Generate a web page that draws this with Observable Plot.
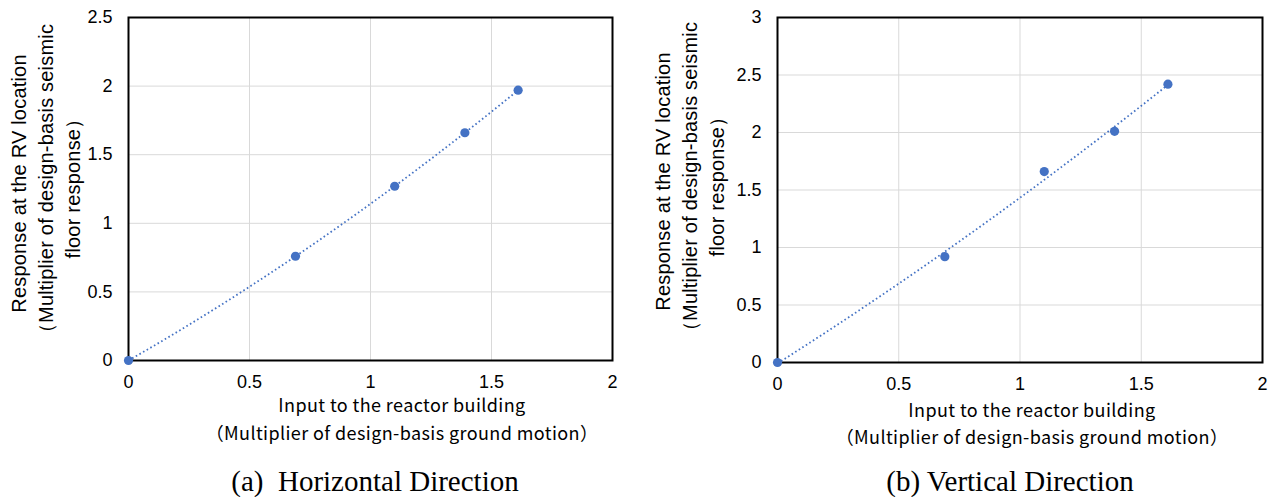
<!DOCTYPE html>
<html>
<head>
<meta charset="utf-8">
<script src="https://cdn.jsdelivr.net/npm/d3@7"></script>
<script src="https://cdn.jsdelivr.net/npm/@observablehq/plot@0.6"></script>
<style>
  html, body { margin: 0; padding: 0; background: #fff; }
  #root { position: relative; width: 1271px; height: 497px; overflow: hidden; }
  .panel { position: absolute; top: 0; }
  .panel svg { display: block; overflow: visible; }
  .ytitle {
    position: absolute; width: 380px; height: 81px;
    font-family: "Liberation Sans", Arial, sans-serif; font-size: 20px;
    letter-spacing: 0.2px;
    line-height: 27px; text-align: center; white-space: pre; color: #000;
    transform: rotate(-90deg); transform-origin: 50% 50%;
  }
  .xtitle {
    position: absolute; width: 500px; height: 28px; line-height: 28px;
    font-family: "Noto Sans CJK JP", sans-serif; font-size: 18px;
    letter-spacing: 0.4px; text-align: center; white-space: pre; color: #000;
  }
  .caption {
    position: absolute; width: 500px; height: 36px; line-height: 36px;
    font-family: "Liberation Serif", "Times New Roman", serif; font-size: 29px;
    text-align: center; white-space: pre; color: #000;
  }
</style>
</head>
<body>
<div id="root"></div>
<script>
// Input to the reactor building (multiplier of design-basis ground motion)
const inputLevels = [0, 0.69, 1.1, 1.39, 1.61];
// Response at the RV location, horizontal direction
const responseHorizontal = [0, 0.76, 1.27, 1.66, 1.97];
// Response at the RV location, vertical direction
const responseVertical = [0, 0.92, 1.66, 2.01, 2.42];

const xTicks = [0, 0.5, 1, 1.5, 2];
const yTicksHorizontal = [0, 0.5, 1, 1.5, 2, 2.5];
const yTicksVertical = [0, 0.5, 1, 1.5, 2, 2.5, 3];

const yTitle = "Response at the RV location\n（Multiplier of design-basis seismic\nfloor response）";
const xTitle1 = "Input to the reactor building";
const xTitle2 = "（Multiplier of design-basis ground motion）";
const captionHorizontal = "(a)  Horizontal Direction";
const captionVertical = "(b) Vertical Direction";

const blue = "#4472C4";

// Second-order polynomial trendline (least squares) through the measured points
function polyTrend(xs, ys) {
  const S = k => d3.sum(xs, x => x ** k);
  const T = k => d3.sum(xs.map((x, i) => x ** k * ys[i]));
  const A = [[S(0), S(1), S(2)], [S(1), S(2), S(3)], [S(2), S(3), S(4)]];
  const b = [T(0), T(1), T(2)];
  for (let i = 0; i < 3; i++) {
    for (let j = i + 1; j < 3; j++) {
      const f = A[j][i] / A[i][i];
      for (let k = i; k < 3; k++) A[j][k] -= f * A[i][k];
      b[j] -= f * b[i];
    }
  }
  const c = [0, 0, 0];
  for (let i = 2; i >= 0; i--) {
    let s = b[i];
    for (let k = i + 1; k < 3; k++) s -= A[i][k] * c[k];
    c[i] = s / A[i][i];
  }
  const [x0, x1] = d3.extent(xs);
  return d3.range(0, 61).map(i => {
    const x = x0 + (x1 - x0) * i / 60;
    return {x, y: c[0] + c[1] * x + c[2] * x * x};
  });
}

function panel({values, yMax, yTicks, width, marginLeft, marginRight, marginBottom}) {
  const points = inputLevels.map((x, i) => ({x, y: values[i]}));
  const trend = polyTrend(inputLevels, values);
  return Plot.plot({
    width, height: 400,
    marginTop: 17, marginBottom, marginLeft, marginRight,
    style: {fontFamily: "'Liberation Sans', Arial, sans-serif", fontSize: "18px", color: "#000", background: "transparent", overflow: "visible"},
    x: {domain: [0, 2], ticks: xTicks, tickFormat: d => String(d), tickSize: 0, tickPadding: 15, label: null},
    y: {domain: [0, yMax], ticks: yTicks, tickFormat: d => String(d), tickSize: 0, tickPadding: 16, label: null},
    marks: [
      Plot.gridX(xTicks, {stroke: "#d9d9d9", strokeOpacity: 1, strokeWidth: 1}),
      Plot.gridY(yTicks, {stroke: "#d9d9d9", strokeOpacity: 1, strokeWidth: 1}),
      Plot.frame({stroke: "#000", strokeWidth: 2}),
      Plot.line(trend, {x: "x", y: "y", stroke: blue, strokeWidth: 1.8, strokeDasharray: "1.6 2.6", strokeLinecap: "butt"}),
      Plot.dot(points, {x: "x", y: "y", r: 4.6, fill: blue, stroke: "none"})
    ]
  });
}

const root = document.getElementById("root");

function placePanel(svg, left) {
  const wrap = document.createElement("div");
  wrap.className = "panel";
  wrap.style.left = left + "px";
  wrap.appendChild(svg);
  root.appendChild(wrap);
}

function textBox(cls, text, cx, cy, w, h) {
  const d = document.createElement("div");
  d.className = cls;
  d.textContent = text;
  d.style.left = (cx - w / 2) + "px";
  d.style.top = (cy - h / 2) + "px";
  root.appendChild(d);
  return d;
}

// (a) Horizontal direction
placePanel(panel({values: responseHorizontal, yMax: 2.5, yTicks: yTicksHorizontal, width: 640, marginLeft: 128, marginRight: 28, marginBottom: 40}), 0);
textBox("ytitle", yTitle, 46, 183, 380, 81);
textBox("xtitle", xTitle1, 402, 404, 500, 28);
textBox("xtitle", xTitle2, 402, 432, 500, 28);
textBox("caption", captionHorizontal, 375, 481, 500, 36);

// (b) Vertical direction
placePanel(panel({values: responseVertical, yMax: 3, yTicks: yTicksVertical, width: 631, marginLeft: 137, marginRight: 9, marginBottom: 38}), 640);
textBox("ytitle", yTitle, 690, 181, 380, 81);
textBox("xtitle", xTitle1, 1032, 409, 500, 28);
textBox("xtitle", xTitle2, 1032, 436, 500, 28);
textBox("caption", captionVertical, 1010, 481, 500, 36);
</script>
</body>
</html>
